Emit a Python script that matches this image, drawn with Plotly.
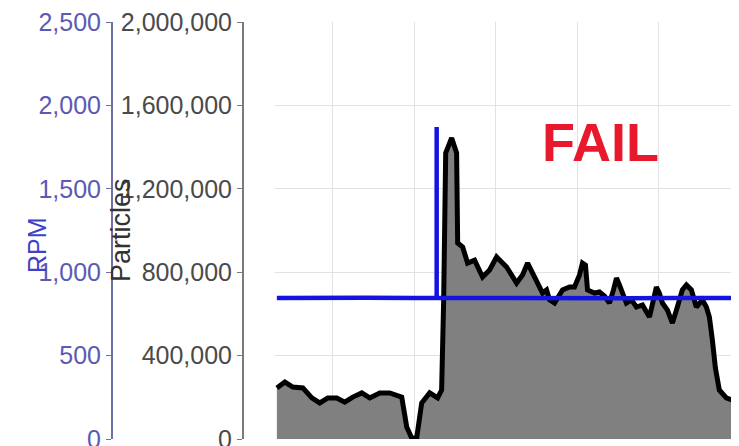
import plotly.graph_objects as go

# time (s) and particle counts
t_particles = [3.13, 4.11, 5.09, 6.32, 7.42, 8.40, 9.39, 10.49, 11.47, 12.45, 13.56, 14.54,
               15.77, 16.99, 18.47, 19.08, 19.69, 20.31, 20.92, 21.90, 22.88, 23.37, 23.62,
               23.87, 24.60, 25.21, 25.34, 25.95, 26.56, 27.42, 28.40, 29.26, 30.12, 31.35,
               32.58, 33.31, 33.93, 35.03, 35.77, 36.26, 36.63, 37.24, 38.22, 39.08, 39.69,
               40.31, 40.67, 41.04, 41.29, 42.15, 42.76, 43.37, 43.99, 44.48, 44.85, 45.21,
               46.07, 46.69, 47.30, 48.04, 48.90, 49.39, 49.75, 50.12, 50.49, 51.10, 51.72,
               52.33, 52.94, 53.44, 54.05, 54.66, 55.40, 55.89, 56.26, 56.63, 57.00, 57.48,
               58.34, 59.08, 59.82]
particles = [245000, 273000, 249000, 245000, 197000, 173000, 197000, 197000, 177000, 201000,
             221000, 197000, 221000, 221000, 201000, 58000, 5000, 5000, 173000, 221000,
             197000, 235000, 667000, 1372000, 1444000, 1372000, 940000, 921000, 844000,
             858000, 777000, 811000, 873000, 825000, 748000, 787000, 844000, 763000, 700000,
             715000, 667000, 652000, 715000, 729000, 729000, 787000, 844000, 834000, 715000,
             700000, 705000, 686000, 652000, 715000, 772000, 739000, 652000, 667000, 633000,
             643000, 585000, 667000, 729000, 700000, 652000, 619000, 556000, 633000, 715000,
             739000, 715000, 633000, 667000, 633000, 585000, 475000, 341000, 235000, 197000,
             187000, 163000]

# RPM series
t_rpm = [3.13, 8.0, 14.0, 20.0, 22.76, 22.76, 22.76, 27.0, 33.0, 40.0, 46.0, 52.0, 59.7]
rpm = [845, 843, 847, 845, 845, 1870, 845, 845, 843, 846, 844, 845, 845]

particle_ticks = [0, 400000, 800000, 1200000, 1600000, 2000000]
rpm_ticks = [0, 500, 1000, 1500, 2000, 2500]

BLUE = "#1414e0"

fig = go.Figure()
fig.add_trace(go.Scatter(
    x=t_particles, y=particles, mode="lines", fill="tozeroy",
    fillcolor="#808080", line=dict(color="#000000", width=5), yaxis="y",
    showlegend=False))
fig.add_trace(go.Scatter(
    x=t_rpm, y=rpm, mode="lines", line=dict(color=BLUE, width=4.5),
    yaxis="y2", showlegend=False))
fig.add_trace(go.Scatter(
    x=[t_rpm[-1]], y=[rpm[-1]], mode="markers", yaxis="y2",
    marker=dict(symbol="circle-open", size=9, color=BLUE, line=dict(width=2)),
    showlegend=False, cliponaxis=False))

# the page body adds an 8px offset; positions below are screen positions minus 8
W, H = 739, 446
T, B = 14, 15
PH = H - T - B


def px_x(sx):
    return (sx - 8) / W


def px_y(sy):
    return (H - B - (sy - 8)) / PH


fig.update_layout(
    width=W, height=H,
    margin=dict(l=0, r=0, t=T, b=B),
    paper_bgcolor="white", plot_bgcolor="white",
    font=dict(family="Liberation Sans, Arial, sans-serif"),
    xaxis=dict(domain=[px_x(275), px_x(739)], range=[2.9, 59.9], tick0=0, dtick=10,
               showgrid=True, gridcolor="#e2e2e2", gridwidth=1,
               showticklabels=False, zeroline=False, showline=False),
    yaxis=dict(range=[0, 2000000], tickvals=particle_ticks,
               ticktext=[f"{v:,}" for v in particle_ticks],
               anchor="free", position=px_x(243), side="left",
               showline=True, linecolor="#7a7a7a", linewidth=2,
               ticks="outside", ticklen=5, tickcolor="#7a7a7a",
               tickfont=dict(size=25, color="#4a4a4a"), ticklabeloverflow="allow",
               showgrid=True, gridcolor="#e2e2e2", zeroline=False),
    yaxis2=dict(range=[0, 2500], tickvals=rpm_ticks,
                ticktext=[f"{v:,}" for v in rpm_ticks],
                overlaying="y", anchor="free", position=px_x(112), side="left",
                showline=True, linecolor="#7070a8", linewidth=2,
                ticks="outside", ticklen=5, tickcolor="#7070a8",
                tickfont=dict(size=25, color="#5a5ab4"), ticklabeloverflow="allow",
                showgrid=False, zeroline=False),
    annotations=[
        dict(text="RPM", x=px_x(37), y=px_y(245), xref="paper", yref="paper",
             showarrow=False, textangle=-90, font=dict(size=25, color="#4040c8"),
             xanchor="center", yanchor="middle"),
        dict(text="Particles", x=px_x(121), y=px_y(230), xref="paper", yref="paper",
             showarrow=False, textangle=-90, font=dict(size=27, color="#333333"),
             xanchor="center", yanchor="middle"),
        dict(text="<b>FAIL</b>", x=px_x(600), y=px_y(142), xref="paper", yref="paper",
             showarrow=False, font=dict(size=54, color="#e8192c"),
             xanchor="center", yanchor="middle"),
    ],
)

fig.write_html("out.html")
